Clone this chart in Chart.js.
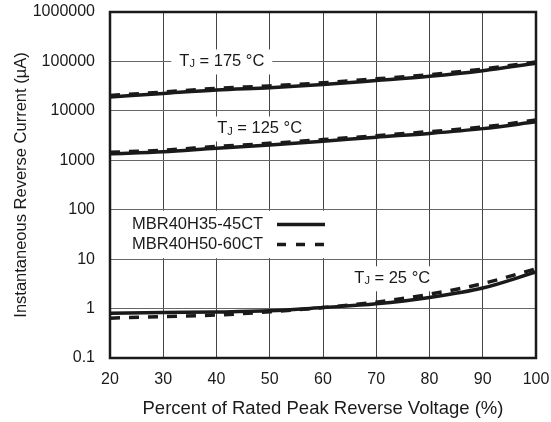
<!DOCTYPE html>
<html>
<head>
<meta charset="utf-8">
<script src="https://cdn.jsdelivr.net/npm/chart.js@4"></script>
<style>
  html, body { margin: 0; padding: 0; background: #fff; }
</style>
</head>
<body>
<canvas id="myChart" width="551" height="422"></canvas>
<script>
// percent of rated peak reverse voltage
const voltagePct = [20, 30, 40, 50, 60, 70, 80, 90, 100];

// reverse current (uA)
const t175Solid  = [19000, 22500, 26500, 29500, 34000, 41000, 50000, 65000, 92000];
const t175Dashed = [20500, 24000, 28500, 32000, 37000, 44500, 54000, 70000, 98000];
const t125Solid  = [1350, 1490, 1760, 2030, 2430, 2940, 3500, 4370, 6000];
const t125Dashed = [1450, 1600, 1900, 2200, 2620, 3150, 3800, 4700, 6500];
const t25Solid   = [0.8, 0.83, 0.85, 0.9, 1.05, 1.25, 1.68, 2.6, 5.5];
const t25Dashed  = [0.64, 0.69, 0.74, 0.86, 1.05, 1.35, 1.95, 3.2, 6.4];

const partNames = ["MBR40H35-45CT", "MBR40H50-60CT"];
const yTicks = [0.1, 1, 10, 100, 1000, 10000, 100000, 1000000];
const xTicks = [20, 30, 40, 50, 60, 70, 80, 90, 100];

// temperature labels: [temp, x, y] in data units
const tempLabels = [
  ["175", 41, 100000],
  ["125", 48.1, 4400],
  ["25", 73, 4.1],
];

const FONT = "'Liberation Sans', Arial, sans-serif";
const INK = "#1a1a1a";

function pts(vals) {
  return voltagePct.map((x, i) => ({ x: x, y: vals[i] }));
}

function line(vals, dashed) {
  return {
    data: pts(vals),
    borderColor: INK,
    borderWidth: 3.5,
    borderDash: dashed ? [10, 9] : [],
    pointRadius: 0,
    cubicInterpolationMode: "monotone",
    fill: false,
    order: dashed ? 0 : 1,
  };
}

// no extra padding for tick labels, the layout padding does it
function noPad(s) {
  s.paddingTop = 0;
  s.paddingBottom = 0;
  s.paddingLeft = 0;
  s.paddingRight = 0;
}

const annoPlugin = {
  id: "anno",
  beforeDatasetsDraw(chart) {
    const ctx = chart.ctx;
    const xs = chart.scales.x, ys = chart.scales.y;
    const area = chart.chartArea;
    ctx.save();

    // temperature labels with white backing
    for (const [temp, xv, yv] of tempLabels) {
      const cx = xs.getPixelForValue(xv);
      const cy = ys.getPixelForValue(yv);
      ctx.font = "16.5px " + FONT;
      const wT = ctx.measureText("T").width;
      const rest = " = " + temp + " °C";
      const wR = ctx.measureText(rest).width;
      ctx.font = "11px " + FONT;
      const wJ = ctx.measureText("J").width;
      const w = wT + wJ + wR;
      const x0 = cx - w / 2;
      ctx.fillStyle = "#fff";
      ctx.fillRect(x0 - 8, cy - 12, w + 16, 25);
      ctx.fillStyle = INK;
      ctx.textBaseline = "middle";
      ctx.textAlign = "left";
      ctx.font = "16.5px " + FONT;
      ctx.fillText("T", x0, cy);
      ctx.font = "11px " + FONT;
      ctx.fillText("J", x0 + wT, cy + 3);
      ctx.font = "16.5px " + FONT;
      ctx.fillText(rest, x0 + wT + wJ, cy);
    }

    // legend box between the 100 and 10 gridlines
    const yTop = ys.getPixelForValue(100);
    const yBot = ys.getPixelForValue(10);
    const mid = (yTop + yBot) / 2;
    const tx = area.left + 22;
    const lx0 = area.left + 167, lx1 = area.left + 215;
    ctx.fillStyle = "#fff";
    ctx.fillRect(area.left + 2, yTop + 1, lx1 + 10 - area.left - 2, yBot - yTop - 2);
    partNames.forEach((name, i) => {
      const y = mid + (i === 0 ? -10 : 10);
      ctx.fillStyle = INK;
      ctx.font = "16.5px " + FONT;
      ctx.textAlign = "left";
      ctx.textBaseline = "middle";
      ctx.fillText(name, tx, y);
      ctx.strokeStyle = INK;
      ctx.lineWidth = 3.5;
      ctx.setLineDash(i === 0 ? [] : [9, 10]);
      ctx.beginPath();
      ctx.moveTo(lx0, y);
      ctx.lineTo(lx1, y);
      ctx.stroke();
    });
    ctx.restore();
  },
  afterDraw(chart) {
    const ctx = chart.ctx, a = chart.chartArea;
    ctx.save();
    ctx.strokeStyle = INK;
    ctx.lineWidth = 2.5;
    ctx.strokeRect(a.left, a.top, a.right - a.left, a.bottom - a.top);
    ctx.restore();
  },
};

const ctx = document.getElementById("myChart");

new Chart(ctx, {
  type: "line",
  data: {
    datasets: [
      line(t175Solid, false),
      line(t175Dashed, true),
      line(t125Solid, false),
      line(t125Dashed, true),
      line(t25Solid, false),
      line(t25Dashed, true),
    ],
  },
  options: {
    responsive: false,
    animation: false,
    layout: { padding: { left: 0, top: 12, right: 15, bottom: 0 } },
    plugins: {
      legend: { display: false },
      tooltip: { enabled: false },
    },
    scales: {
      x: {
        type: "linear",
        min: 20,
        max: 100,
        afterBuildTicks: (s) => { s.ticks = xTicks.map((v) => ({ value: v })); },
        afterFit: (s) => { s.height = 64; noPad(s); },
        grid: { color: "#444", lineWidth: 1, drawTicks: false },
        border: { display: false },
        ticks: { color: INK, font: { family: FONT, size: 16 }, padding: 12, maxRotation: 0 },
        title: {
          display: true,
          text: "Percent of Rated Peak Reverse Voltage (%)",
          color: INK,
          font: { family: FONT, size: 18.5 },
          padding: { top: 0, bottom: 2 },
        },
      },
      y: {
        type: "logarithmic",
        min: 0.1,
        max: 1000000,
        afterBuildTicks: (s) => { s.ticks = yTicks.map((v) => ({ value: v })); },
        afterFit: (s) => { s.width = 110; noPad(s); },
        grid: { color: "#666", lineWidth: 1, drawTicks: false },
        border: { display: false },
        ticks: {
          color: INK,
          font: { family: FONT, size: 16 },
          padding: 15,
          callback: (v) => String(v),
        },
        title: {
          display: true,
          text: "Instantaneous Reverse Current (µA)",
          color: INK,
          font: { family: FONT, size: 16.5 },
          padding: { top: 12, bottom: 0 },
        },
      },
    },
  },
  plugins: [annoPlugin],
});
</script>
</body>
</html>
